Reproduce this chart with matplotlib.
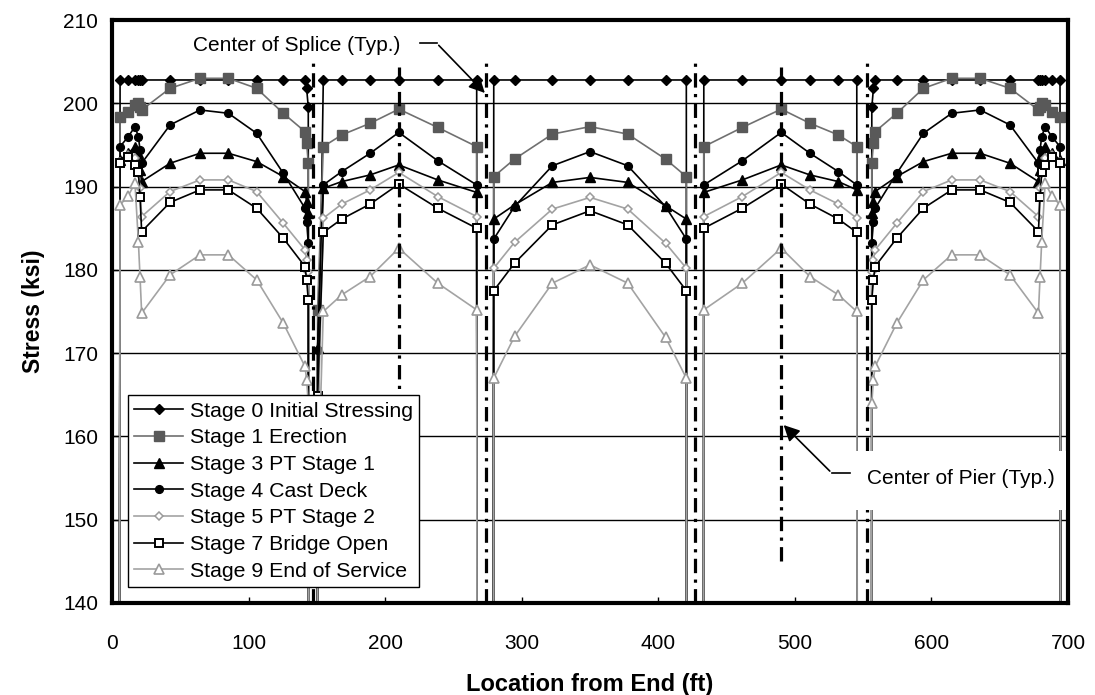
import matplotlib
matplotlib.use('Agg')
import matplotlib.pyplot as plt
from matplotlib.patches import Rectangle

plt.rcParams['font.family'] = ['Liberation Sans', 'DejaVu Sans']

# ---------------- data ----------------
location_ft = [
    4.6, 5.9, 11.9, 16.8, 19.3, 20.5, 21.7, 42.5, 64.4, 85.2, 105.9, 125.4, 141.3, 142.5, 143.7, 143.9,
    150.2, 150.5, 154.7, 168.2, 189.0, 210.0, 238.5, 267.0, 268.0,
    278.8, 279.5, 294.7, 322.4, 350.0, 377.6, 405.3, 420.5, 420.8,
    432.8, 433.3, 461.5, 490.0, 511.0, 531.8, 545.3, 546.3,
    556.1, 556.3, 557.5, 558.7, 574.6, 594.1, 614.8, 635.6, 657.5, 678.3, 679.5, 680.7, 683.2, 688.1, 694.1, 695.4]

stage0 = [
    0, 202.8, 202.8, 202.8, 202.8, 202.8, 202.8, 202.8, 202.8, 202.8, 202.8, 202.8, 202.8, 201.8, 199.5, 0,
    0, 158.0, 202.8, 202.8, 202.8, 202.8, 202.8, 202.8, 0,
    0, 202.8, 202.8, 202.8, 202.8, 202.8, 202.8, 202.8, 0,
    0, 202.8, 202.8, 202.8, 202.8, 202.8, 202.8, 0,
    0, 199.5, 201.8, 202.8, 202.8, 202.8, 202.8, 202.8, 202.8, 202.8, 202.8, 202.8, 202.8, 202.8, 202.8, 0]

stage1 = [
    0, 198.4, 199.0, 199.8, 200.0, 199.6, 199.2, 201.8, 203.0, 203.0, 201.8, 198.8, 196.6, 195.2, 192.8, 0,
    0, 175.2, 194.8, 196.2, 197.6, 199.3, 197.1, 194.8, 0,
    0, 191.2, 193.3, 196.3, 197.2, 196.3, 193.3, 191.2, 0,
    0, 194.8, 197.1, 199.3, 197.6, 196.2, 194.8, 0,
    0, 192.8, 195.2, 196.6, 198.8, 201.8, 203.0, 203.0, 201.8, 199.2, 199.6, 200.0, 199.8, 199.0, 198.4, 0]

stage3 = [
    0, 193.2, 194.0, 194.8, 194.0, 192.0, 190.6, 192.8, 194.0, 194.0, 193.0, 191.2, 189.4, 188.2, 186.8, 0,
    0, 170.6, 189.8, 190.6, 191.4, 192.6, 190.8, 189.3, 0,
    0, 186.1, 187.8, 190.5, 191.1, 190.5, 187.7, 186.1, 0,
    0, 189.3, 190.8, 192.6, 191.4, 190.6, 189.6, 0,
    0, 186.8, 188.2, 189.4, 191.2, 193.0, 194.0, 194.0, 192.8, 190.6, 192.0, 194.0, 194.8, 194.0, 193.2, 0]

stage4 = [
    0, 194.8, 196.0, 197.2, 196.0, 194.4, 192.8, 197.4, 199.2, 198.8, 196.4, 191.6, 187.4, 185.8, 183.2, 0,
    0, 170.4, 190.2, 191.8, 194.0, 196.5, 193.1, 190.2, 0,
    0, 183.7, 187.6, 192.5, 194.2, 192.5, 187.6, 183.7, 0,
    0, 190.2, 193.1, 196.5, 194.0, 191.8, 190.2, 0,
    0, 183.2, 185.8, 187.4, 191.6, 196.4, 198.8, 199.2, 197.4, 192.8, 194.4, 196.0, 197.2, 196.0, 194.8, 0]

stage5 = [
    0, 193.0, 193.8, 193.4, 191.6, 189.8, 186.4, 189.4, 190.8, 190.8, 189.4, 185.6, 182.4, 181.2, 179.8, 0,
    0, 160.0, 186.2, 187.9, 189.6, 191.7, 188.8, 186.4, 0,
    0, 180.2, 183.3, 187.3, 188.7, 187.3, 183.2, 180.2, 0,
    0, 186.4, 188.8, 191.7, 189.6, 187.9, 186.2, 0,
    0, 179.8, 181.2, 182.4, 185.6, 189.4, 190.8, 190.8, 189.4, 186.4, 189.8, 191.6, 193.4, 193.8, 193.0, 0]

stage7 = [
    0, 192.8, 193.6, 192.6, 191.7, 188.8, 184.6, 188.1, 189.6, 189.6, 187.4, 183.8, 180.4, 178.8, 176.4, 0,
    0, 164.8, 184.5, 186.1, 187.9, 190.3, 187.4, 185.0, 0,
    0, 177.5, 180.8, 185.4, 187.1, 185.4, 180.8, 177.5, 0,
    0, 185.0, 187.4, 190.3, 187.9, 186.1, 184.5, 0,
    0, 176.4, 178.8, 180.4, 183.8, 187.4, 189.6, 189.6, 188.1, 184.6, 188.8, 191.7, 192.6, 193.6, 192.8, 0]

stage9 = [
    0, 187.8, 188.9, 190.4, 183.4, 179.2, 174.8, 179.4, 181.8, 181.8, 178.8, 173.6, 168.4, 166.8, 164.0, 0,
    0, 152.0, 175.0, 177.0, 179.2, 182.6, 178.4, 175.2, 0,
    0, 167.0, 172.0, 178.4, 180.6, 178.4, 171.9, 167.0, 0,
    0, 175.2, 178.4, 182.6, 179.2, 177.0, 175.0, 0,
    0, 164.0, 166.8, 168.4, 173.6, 178.8, 181.8, 181.8, 179.4, 174.8, 179.2, 183.4, 190.4, 188.9, 187.8, 0]

series_labels = ['Stage 0 Initial Stressing', 'Stage 1 Erection', 'Stage 3 PT Stage 1',
                 'Stage 4 Cast Deck', 'Stage 5 PT Stage 2', 'Stage 7 Bridge Open',
                 'Stage 9 End of Service']

splice_x = [147.0, 273.5, 426.5, 553.0]
pier_x = [210.0, 490.0]

x_ticks = [0, 100, 200, 300, 400, 500, 600, 700]
y_ticks = [140, 150, 160, 170, 180, 190, 200, 210]

# ---------------- styles ----------------
styles = [
    dict(color='black', marker='D', ms=4.6, mfc='black', mec='black'),
    dict(color='#707070', marker='s', ms=7, mfc='#595959', mec='#595959'),
    dict(color='black', marker='^', ms=7.5, mfc='black', mec='black'),
    dict(color='black', marker='o', ms=5.6, mfc='black', mec='black'),
    dict(color='#a3a3a3', marker='D', ms=4.0, mfc='white', mec='#9a9a9a', mew=1.1),
    dict(color='black', marker='s', ms=6.2, mfc='white', mec='black', mew=1.4),
    dict(color='#a3a3a3', marker='^', ms=7.5, mfc='white', mec='#9a9a9a', mew=1.2),
]
values = [stage0, stage1, stage3, stage4, stage5, stage7, stage9]

fig = plt.figure(figsize=(10.95, 6.95), dpi=100)
ax = fig.add_axes([0.1023, 0.1324, 0.8731, 0.8388])

for lab, vals, st in zip(series_labels, values, styles):
    ax.plot(location_ft, vals, lw=1.2, label=lab, zorder=3, **st)

# center of splice / pier reference lines
for xs in splice_x:
    ax.plot([xs, xs], [140, 205.6], color='black', lw=2.3,
            linestyle=(0, (4.5, 2, 1, 2)), zorder=4)
for xp in pier_x:
    ax.plot([xp, xp], [145, 204.4], color='black', lw=2.3,
            linestyle=(0, (4.5, 2, 1, 2)), zorder=4)

ax.set_xlim(0, 700)
ax.set_ylim(140, 210)
ax.set_xticks(x_ticks)
ax.set_yticks(y_ticks)
ax.yaxis.grid(True, color='black', lw=1.0)
ax.set_axisbelow(True)
for sp in ax.spines.values():
    sp.set_linewidth(3)
    sp.set_zorder(6)
ax.tick_params(axis='both', direction='in', length=4, width=1, labelsize=15)
ax.tick_params(axis='x', pad=22)
ax.tick_params(axis='y', pad=10)

ax.set_xlabel('Location from End (ft)', fontsize=17, fontweight='bold', labelpad=15)
ax.set_ylabel('Stress (ksi)', fontsize=16.5, fontweight='bold', labelpad=13)

# annotations
ax.text(59.3, 207.0, 'Center of Splice (Typ.)', fontsize=15, ha='left', va='center', zorder=7)
ax.plot([225.5, 237.8], [207.2, 207.2], color='black', lw=1.2, zorder=7)
ax.annotate('', xy=(274.4, 201.0), xytext=(237.8, 207.2),
            arrowprops=dict(arrowstyle='-|>', color='black', lw=1.2, mutation_scale=24),
            zorder=7)

ax.add_patch(Rectangle((539.8, 151.2), 158.5, 7.0, facecolor='white', edgecolor='none', zorder=7))
ax.text(552.5, 155.0, 'Center of Pier (Typ.)', fontsize=15, ha='left', va='center', zorder=8)
ax.plot([527.0, 540.0], [155.6, 155.6], color='black', lw=1.2, zorder=8)
ax.annotate('', xy=(490.3, 161.6), xytext=(527.0, 155.6),
            arrowprops=dict(arrowstyle='-|>', color='black', lw=1.2, mutation_scale=24),
            zorder=8)

leg = ax.legend(loc='lower left', bbox_to_anchor=(0.0167, 0.0274), fontsize=15.3,
                frameon=True, fancybox=False, framealpha=1, edgecolor='black',
                borderpad=0.3, labelspacing=0.36, handlelength=2.3, handletextpad=0.3,
                borderaxespad=0)
leg.get_frame().set_linewidth(1.0)
leg.set_zorder(9)

fig.savefig('out.png', dpi=100, facecolor='white')
